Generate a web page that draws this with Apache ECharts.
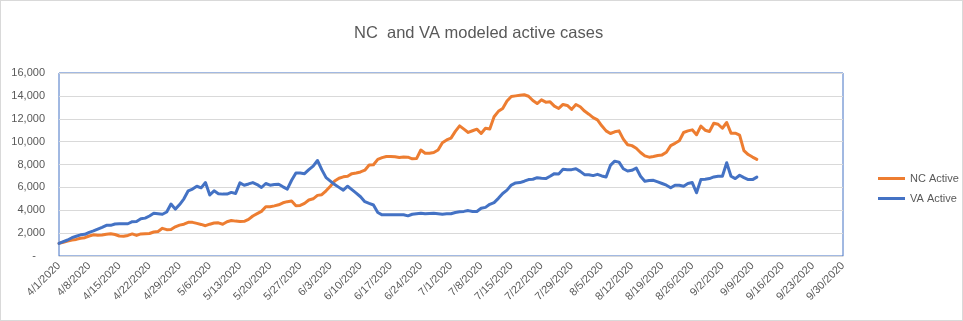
<!DOCTYPE html>
<html>
<head>
<meta charset="utf-8">
<script src="https://cdn.jsdelivr.net/npm/echarts@6/dist/echarts.min.js"></script>
<style>
  html, body { margin: 0; padding: 0; background: #fff; }
  #chart { width: 963px; height: 321px; box-sizing: border-box; border: 1px solid #d9d9d9; }
</style>
</head>
<body>
<div id="chart"></div>
<script>
// Daily modeled active cases, starting 4/1/2020
const startDate = [2020, 4, 1];
const axisDays = 183; // 4/1/2020 .. 9/30/2020

const ncActive = [
  1100, 1200, 1300, 1400, 1450, 1550, 1600, 1750, 1850, 1820,
  1830, 1900, 1950, 1880, 1750, 1720, 1800, 1930, 1800, 1930,
  1950, 1970, 2100, 2150, 2420, 2300, 2320, 2550, 2700, 2780,
  2940, 2940, 2850, 2760, 2650, 2780, 2880, 2900, 2780, 3000,
  3100, 3050, 3020, 3030, 3200, 3500, 3700, 3900, 4300, 4300,
  4380, 4480, 4650, 4750, 4810, 4400, 4420, 4600, 4900, 5000,
  5300, 5360, 5700, 6100, 6550, 6800, 6920, 6970, 7200, 7260,
  7350, 7500, 7950, 7980, 8450, 8600, 8700, 8700, 8670, 8610,
  8660, 8640, 8500, 8520, 9270, 8980, 8980, 9050, 9270, 9900,
  10150, 10310, 10900, 11380, 11090, 10800, 10950, 11090, 10710, 11170,
  11100, 12180, 12650, 12900, 13550, 13950, 14000, 14050, 14100, 13970,
  13590, 13330, 13650, 13450, 13480, 13100, 12900, 13250, 13160, 12820,
  13250, 13050, 12670, 12400, 12100, 11900, 11380, 10940, 10710, 10860,
  10940, 10220, 9730, 9650, 9420, 9050, 8750, 8640, 8700, 8790,
  8840, 9070, 9650, 9850, 10080, 10800, 10940, 11030, 10600, 11350,
  11000, 10890, 11610, 11520, 11170, 11670, 10740, 10740, 10570, 9220,
  8870, 8650, 8450
];

const vaActive = [
  1100, 1250, 1400, 1600, 1730, 1850, 1900, 2070, 2200, 2350,
  2500, 2680, 2680, 2800, 2820, 2820, 2820, 3000, 3020, 3250,
  3310, 3500, 3740, 3700, 3650, 3850, 4550, 4100, 4500, 5000,
  5700, 5850, 6100, 5960, 6420, 5330, 5700, 5450, 5410, 5410,
  5560, 5470, 6390, 6190, 6300, 6420, 6250, 5990, 6340, 6190,
  6250, 6280, 6050, 5850, 6620, 7260, 7250, 7200, 7550, 7860,
  8350, 7550, 6850, 6550, 6250, 6000, 5760, 6100, 5800, 5500,
  5180, 4750, 4600, 4460, 3800, 3600, 3600, 3600, 3600, 3600,
  3600, 3510, 3650, 3700, 3740, 3690, 3720, 3740, 3700, 3660,
  3690, 3700, 3800, 3860, 3900, 3970, 3890, 3890, 4180, 4250,
  4520, 4670, 5040, 5470, 5760, 6200, 6390, 6420, 6540, 6680,
  6710, 6850, 6800, 6770, 6970, 7200, 7170, 7580, 7550, 7550,
  7630, 7400, 7110, 7110, 7030, 7140, 7000, 6910, 7920, 8290,
  8210, 7630, 7430, 7490, 7690, 6970, 6540, 6600, 6620, 6480,
  6340, 6190, 5960, 6190, 6190, 6100, 6340, 6420, 5530, 6680,
  6710, 6770, 6910, 6970, 6970, 8150, 6970, 6770, 7060, 6850,
  6680, 6680, 6900
];

const yTicks = { min: 0, max: 16000, step: 2000 };

// Category labels in m/d/yyyy form for every day on the axis
const dates = [];
{
  const d = new Date(startDate[0], startDate[1] - 1, startDate[2]);
  for (let i = 0; i < axisDays; i++) {
    dates.push((d.getMonth() + 1) + '/' + d.getDate() + '/' + d.getFullYear());
    d.setDate(d.getDate() + 1);
  }
}

const textColor = '#595959';
const fontFamily = 'Liberation Sans, Arial, sans-serif';

const chart = echarts.init(document.getElementById('chart'), null, { renderer: 'canvas' });
chart.setOption({
  animation: false,
  title: {
    text: 'NC  and VA modeled active cases',
    left: 348,
    top: 19,
    textStyle: { color: textColor, fontSize: 16.5, fontWeight: 'normal', fontFamily }
  },
  legend: {
    orient: 'vertical',
    left: 872,
    top: 167,
    itemWidth: 27,
    itemHeight: 3,
    itemGap: 9,
    icon: 'rect',
    textStyle: { color: textColor, fontSize: 11, fontFamily },
    data: ['NC Active', 'VA Active']
  },
  grid: {
    left: 58, right: 119, top: 72, bottom: 64,
    show: true, borderColor: '#4472C4', borderWidth: 1
  },
  xAxis: {
    type: 'category',
    data: dates,
    boundaryGap: false,
    axisLine: { show: true, lineStyle: { color: '#d9d9d9', width: 1 } },
    axisTick: { show: false },
    axisLabel: {
      interval: 6,
      rotate: 45,
      color: textColor,
      fontSize: 11,
      fontFamily,
      margin: 8
    },
    splitLine: { show: false }
  },
  yAxis: {
    type: 'value',
    min: yTicks.min,
    max: yTicks.max,
    interval: yTicks.step,
    axisLine: { show: false },
    axisTick: { show: false },
    axisLabel: {
      color: textColor,
      fontSize: 11,
      fontFamily,
      margin: 14,
      formatter: v => v === 0 ? '-   ' : v.toLocaleString('en-US')
    },
    splitLine: { lineStyle: { color: '#d9d9d9', width: 1 } }
  },
  series: [
    {
      name: 'NC Active',
      type: 'line',
      data: ncActive,
      showSymbol: false,
      lineStyle: { color: '#ED7D31', width: 3, join: 'round', cap: 'round' },
      itemStyle: { color: '#ED7D31' }
    },
    {
      name: 'VA Active',
      type: 'line',
      data: vaActive,
      showSymbol: false,
      lineStyle: { color: '#4472C4', width: 3, join: 'round', cap: 'round' },
      itemStyle: { color: '#4472C4' }
    }
  ]
});
</script>
</body>
</html>
